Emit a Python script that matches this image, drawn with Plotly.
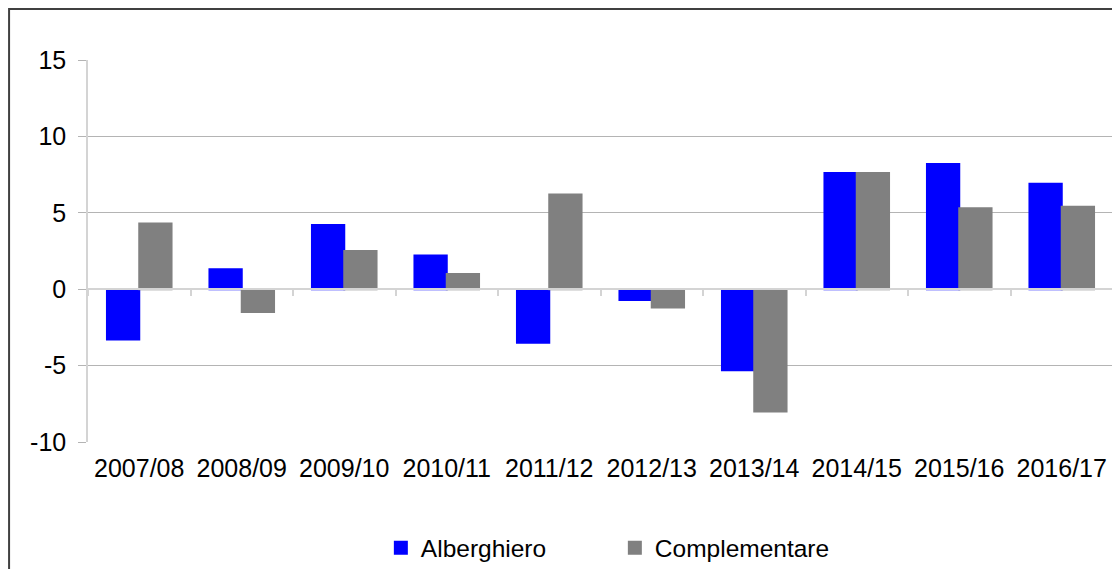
import plotly.graph_objects as go

categories = ["2007/08", "2008/09", "2009/10", "2010/11", "2011/12",
              "2012/13", "2013/14", "2014/15", "2015/16", "2016/17"]
alberghiero = [-3.3, 1.3, 4.2, 2.2, -3.5, -0.7, -5.3, 7.6, 8.2, 6.9]
complementare = [4.3, -1.5, 2.5, 1.0, 6.2, -1.2, -8.0, 7.6, 5.3, 5.4]
y_ticks = [-10, -5, 0, 5, 10, 15]
y_tick_labels = ["-10", "-5", "0", "5", "10", "15"]

FONT = "Liberation Sans, Arial, sans-serif"

fig = go.Figure()
fig.add_trace(go.Bar(x=categories, y=alberghiero, name="Alberghiero",
                     marker=dict(color="#0000FF",
                                 line=dict(color="#0000FF", width=2))))
fig.add_trace(go.Bar(x=categories, y=complementare, name="Complementare",
                     marker=dict(color="#808080",
                                 line=dict(color="#808080", width=2))))
# invisible helper trace on the zero-line axis so it shares categories
fig.add_trace(go.Bar(x=categories, y=[0]*len(categories), xaxis="x2",
                     showlegend=False, hoverinfo="skip",
                     marker=dict(color="rgba(0,0,0,0)", line=dict(width=0))))

# page body has an 8px margin, so the figure is sized/placed to compensate
fig.update_layout(
    template="none",
    width=1112, height=561,
    margin=dict(l=80, r=7, t=52, b=127, autoexpand=False),
    paper_bgcolor="white", plot_bgcolor="white",
    barmode="group", bargap=0.37, bargroupgap=0,
    font=dict(family=FONT, size=25, color="black"),
    showlegend=True,
    legend=dict(orientation="h", x=0.514, xanchor="center",
                y=-0.277, yanchor="middle",
                font=dict(size=24.5), entrywidth=189, itemwidth=30,
                traceorder="normal", bgcolor="rgba(0,0,0,0)"),
    xaxis=dict(type="category", showgrid=False, showline=False,
               ticks="", tickfont=dict(size=25), zeroline=False,
               automargin=False, ticklabelstandoff=9),
    xaxis2=dict(type="category", matches="x", anchor="free", overlaying="x",
                position=0.4, side="bottom", showticklabels=False,
                showline=True, linecolor="#d4d4d4", linewidth=1.5,
                ticks="outside", tickson="boundaries", ticklen=6,
                tickcolor="#d4d4d4", tickwidth=1.5, showgrid=False,
                zeroline=False, automargin=False),
    yaxis=dict(range=[-10, 15], tickvals=y_ticks, ticktext=y_tick_labels,
               showgrid=True, gridcolor="#b4b4b4", gridwidth=1,
               zeroline=False, automargin=False,
               showline=True, linecolor="#d4d4d4", linewidth=1.5,
               ticks="outside", ticklen=8, tickcolor="#b4b4b4", tickwidth=1,
               tickfont=dict(size=25), ticklabelstandoff=7),
    shapes=[dict(type="rect", xref="paper", yref="paper",
                 x0=-0.077, x1=1.2, y0=-0.6, y1=1.1335,
                 line=dict(color="#404040", width=2), layer="below")],
)

fig.write_html("out.html")
